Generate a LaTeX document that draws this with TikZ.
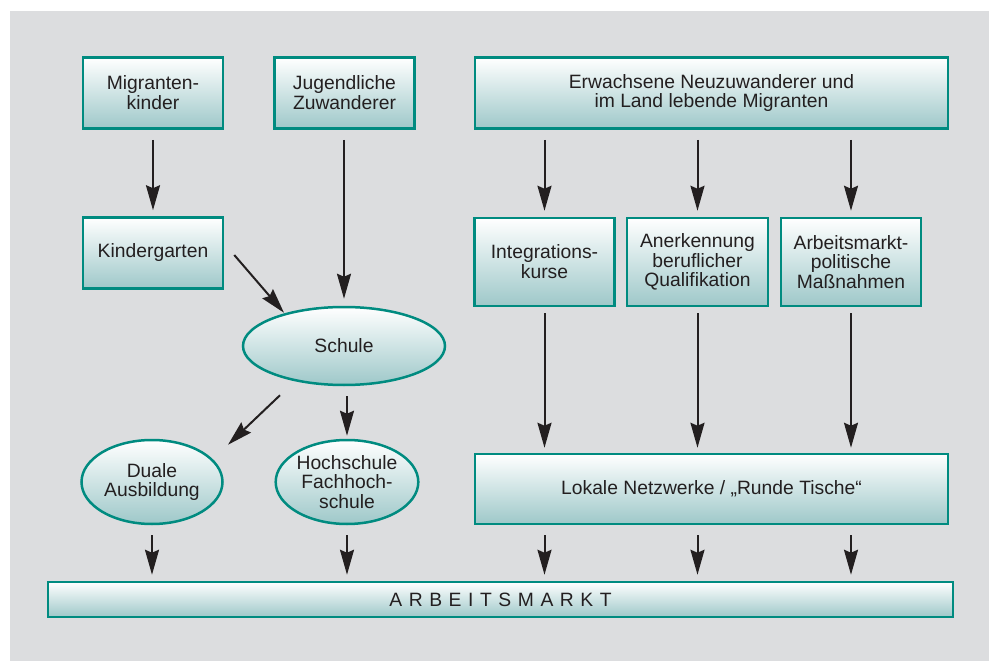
\documentclass[tikz,border=0pt]{standalone}
\usepackage{fontspec}
\setmainfont{Liberation Sans}
\usetikzlibrary{shapes.geometric,arrows.meta}
\definecolor{bggrey}{RGB}{220,221,223}
\definecolor{tealline}{RGB}{0,139,128}
\definecolor{tealfill}{RGB}{158,200,201}
\definecolor{txtgrey}{RGB}{35,31,32}
\begin{document}
\begin{tikzpicture}[x=1pt,y=-1pt,
  every node/.style={font=\fontsize{19.3}{19.8}\selectfont,text=txtgrey,align=center,inner sep=0pt},
  tealbox/.style={rectangle,draw=tealline,line width=2.5pt,top color=white,bottom color=tealfill},
  tealoval/.style={ellipse,draw=tealline,line width=2.5pt,top color=white,bottom color=tealfill},
  arr/.style={-{Stealth[length=25pt,width=14pt,inset=3pt]},line width=2pt,draw=txtgrey}]
 \useasboundingbox (0,0) rectangle (989,661);
 \fill[bggrey] (10,11) rectangle (989,661);
 % top row
 \node[tealbox,minimum width=140,minimum height=71] (mkind) at (153,93) {Migranten-\\kinder};
 \node[tealbox,minimum width=140,minimum height=71] (jugend) at (344.5,93) {Jugendliche\\Zuwanderer};
 \node[tealbox,minimum width=473,minimum height=71] (erw) at (711.5,93) {Erwachsene Neuzuwanderer und\\im Land lebende Migranten};
 % middle row
 \node[tealbox,minimum width=140,minimum height=71] (kiga) at (153,253) {Kindergarten};
 \node[tealbox,minimum width=140,minimum height=88] (integ) at (544.5,262) {Integrations-\\kurse};
 \node[tealbox,minimum width=141,minimum height=88] (anerk) at (697.5,262) {Anerkennung\\beruflicher\\Qualifikation};
 \node[tealbox,minimum width=140,minimum height=88] (amp) at (851,262) {Arbeitsmarkt-\\politische\\Maßnahmen};
 \node[tealoval,minimum width=202,minimum height=78] (schule) at (344,346) {Schule};
 % lower row
 \node[tealoval,minimum width=141,minimum height=84] (duale) at (152,482) {Duale\\Ausbildung};
 \node[tealoval,minimum width=141,minimum height=84] (hoch) at (347,482) {Hochschule\\Fachhoch-\\schule};
 \node[tealbox,minimum width=473,minimum height=70] (lokal) at (711.5,489) {Lokale Netzwerke / „Runde Tische“};
 \node[tealbox,minimum width=905,minimum height=35] (amarkt) at (500.5,599.5) {\addfontfeature{LetterSpace=34}ARBEITSMARKT};
 % arrows
 \draw[arr,shorten <=10pt,shorten >=6pt] (mkind) -- (kiga);
 \draw[arr,shorten <=10pt,shorten >=7pt] (jugend.south -| schule.north) -- (schule.north);
 \draw[arr] ([xshift=10pt,yshift=-2pt]kiga.east) -- ([xshift=-60pt,yshift=-7pt]schule.north);
 \draw[arr] ([xshift=-64pt,yshift=-9pt]schule.south) -- ([xshift=76pt,yshift=-6pt]duale.north);
 \draw[arr,shorten <=10pt,shorten >=3pt] (schule.south -| hoch.north) -- (hoch.north);
 \foreach \n in {integ,anerk,amp} {
   \draw[arr,shorten <=10pt,shorten >=6pt] (erw.south -| \n.north) -- (\n.north);
   \draw[arr,shorten <=6pt,shorten >=5pt] (\n.south) -- (lokal.north -| \n.south);
   \draw[arr,shorten <=10pt,shorten >=6pt] (lokal.south -| \n.south) -- (amarkt.north -| \n.south);
 }
 \foreach \n in {duale,hoch}
   \draw[arr,shorten <=10pt,shorten >=6pt] (\n.south) -- (amarkt.north -| \n.south);
\end{tikzpicture}
\end{document}
